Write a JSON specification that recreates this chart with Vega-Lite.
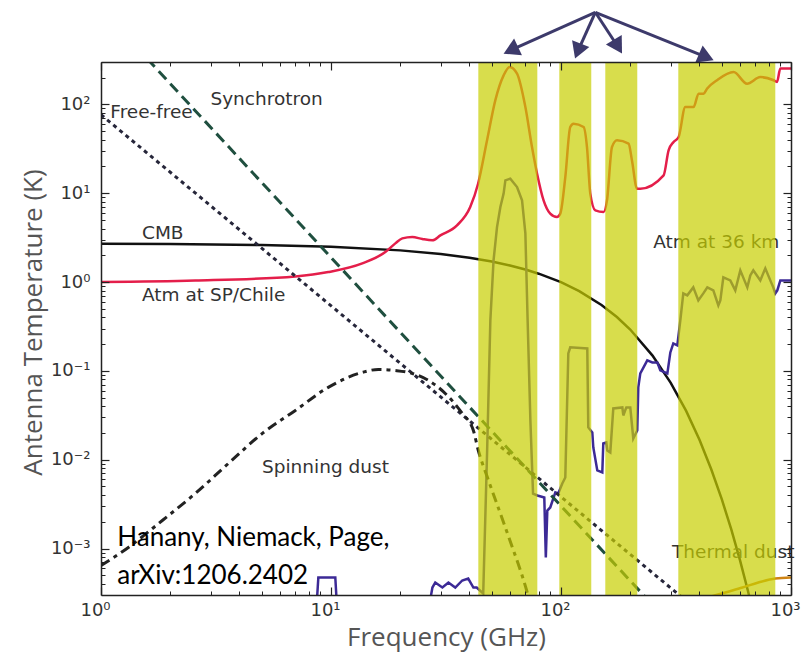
{
  "$schema": "https://vega.github.io/schema/vega-lite/v6.json",
  "width": 690,
  "height": 533,
  "autosize": {"type": "none"},
  "padding": {"left": 101, "top": 62, "right": 14, "bottom": 59},
  "background": "white",
  "config": {"view": {"stroke": null}, "axis": {"grid": false}},
  "datasets": {
    "cmb": [
      {"f": 1, "T": 2.701}, {"f": 2, "T": 2.677}, {"f": 5, "T": 2.607}, {"f": 10, "T": 2.492}, {"f": 20, "T": 2.273},
      {"f": 30, "T": 2.068}, {"f": 40, "T": 1.877}, {"f": 50, "T": 1.699}, {"f": 60, "T": 1.534}, {"f": 70, "T": 1.382},
      {"f": 80, "T": 1.242}, {"f": 100, "T": 0.996}, {"f": 120, "T": 0.7914}, {"f": 150, "T": 0.552}, {"f": 175, "T": 0.4038},
      {"f": 200, "T": 0.292}, {"f": 250, "T": 0.1487}, {"f": 300, "T": 0.0734}, {"f": 350, "T": 0.03542}, {"f": 400, "T": 0.01677},
      {"f": 450, "T": 0.00781}, {"f": 500, "T": 0.003597}, {"f": 550, "T": 0.00164}, {"f": 600, "T": 0.000742}, {"f": 650, "T": 0.000333},
      {"f": 700, "T": 0.0001487}
    ],
    "sync": [{"f": 1, "T": 1190}, {"f": 1000, "T": 0.0000048}],
    "ff": [{"f": 1, "T": 76.5}, {"f": 1000, "T": 0.000027}],
    "spin": [
      {"f": 1.0, "T": 0.000644}, {"f": 1.315, "T": 0.00103}, {"f": 1.847, "T": 0.00207}, {"f": 2.57, "T": 0.00417},
      {"f": 3.58, "T": 0.00908}, {"f": 5.03, "T": 0.0198}, {"f": 7.0, "T": 0.0359}, {"f": 9.73, "T": 0.0652},
      {"f": 13.68, "T": 0.0962}, {"f": 16.06, "T": 0.1038}, {"f": 19.05, "T": 0.101}, {"f": 22.57, "T": 0.0935},
      {"f": 26.5, "T": 0.0781}, {"f": 31.4, "T": 0.0557}, {"f": 37.2, "T": 0.0332}, {"f": 41.6, "T": 0.0213},
      {"f": 43.7, "T": 0.0127}, {"f": 47.9, "T": 0.00631}, {"f": 58.5, "T": 0.00148}, {"f": 71.5, "T": 0.000312},
      {"f": 77, "T": 0.00015}
    ],
    "dust": [
      {"f": 365, "T": 0.000229}, {"f": 424, "T": 0.000274}, {"f": 518, "T": 0.00032}, {"f": 615, "T": 0.000364},
      {"f": 721, "T": 0.000415}, {"f": 855, "T": 0.00046}, {"f": 1000, "T": 0.000472}
    ],
    "sp": [
      {"f": 1, "T": 1.0}, {"f": 2.57, "T": 1.04}, {"f": 7.0, "T": 1.158}, {"f": 9.73, "T": 1.295}, {"f": 13.68, "T": 1.622},
      {"f": 17.22, "T": 2.175}, {"f": 19.04, "T": 2.725}, {"f": 20.42, "T": 3.10}, {"f": 22.57, "T": 3.22}, {"f": 24.95, "T": 3.05},
      {"f": 27.57, "T": 2.95}, {"f": 29.89, "T": 3.35}, {"f": 35.3, "T": 4.35}, {"f": 40.3, "T": 6.99}, {"f": 43.6, "T": 12.8},
      {"f": 47.7, "T": 39.4}, {"f": 51.8, "T": 111}, {"f": 56.3, "T": 212}, {"f": 59.8, "T": 264}, {"f": 64.4, "T": 222},
      {"f": 70.0, "T": 93.4}, {"f": 74.8, "T": 33.1}, {"f": 78.7, "T": 16.6}, {"f": 84.0, "T": 8.31}, {"f": 89.8, "T": 5.89},
      {"f": 96.0, "T": 5.39}, {"f": 99.3, "T": 5.89}, {"f": 104.4, "T": 15.2}, {"f": 109.7, "T": 55.6}, {"f": 113.4, "T": 60.7},
      {"f": 125.4, "T": 55.6}, {"f": 129.7, "T": 33.1}, {"f": 134.1, "T": 9.89}, {"f": 141.0, "T": 6.41}, {"f": 153.2, "T": 6.14},
      {"f": 158.5, "T": 8.31}, {"f": 166.6, "T": 33.1}, {"f": 175.2, "T": 39.4}, {"f": 196.7, "T": 36.1}, {"f": 203.5, "T": 23.4},
      {"f": 214.0, "T": 11.25}, {"f": 221.2, "T": 11.25}, {"f": 279.3, "T": 15.9}, {"f": 293.6, "T": 30.4}, {"f": 308.7, "T": 37.7},
      {"f": 324.6, "T": 42.9}, {"f": 347.1, "T": 93.4}, {"f": 377.1, "T": 93.4}, {"f": 396.5, "T": 132}, {"f": 416.9, "T": 132},
      {"f": 431.3, "T": 150}, {"f": 476.8, "T": 187}, {"f": 562.9, "T": 231}, {"f": 643.9, "T": 171}, {"f": 735.4, "T": 203},
      {"f": 840.2, "T": 187}, {"f": 869.3, "T": 179}, {"f": 898.6, "T": 253}, {"f": 1000, "T": 253}
    ],
    "a36": [
      {"f": 1, "T": 0.0002}, {"f": 8.63, "T": 0.0002}, {"f": 8.81, "T": 0.000472}, {"f": 10.44, "T": 0.000472}, {"f": 10.64, "T": 0.0002},
      {"f": 26.5, "T": 0.0002}, {"f": 27.6, "T": 0.000364}, {"f": 28.4, "T": 0.000415}, {"f": 30.5, "T": 0.000364}, {"f": 32.4, "T": 0.000415},
      {"f": 34.7, "T": 0.000364}, {"f": 37.2, "T": 0.000437}, {"f": 39.5, "T": 0.00046}, {"f": 41.6, "T": 0.000364}, {"f": 43.0, "T": 0.000364},
      {"f": 45.9, "T": 0.000312}, {"f": 47.7, "T": 0.01176}, {"f": 49.3, "T": 0.37}, {"f": 50.9, "T": 1.75}, {"f": 52.7, "T": 4.16},
      {"f": 54.5, "T": 6.99}, {"f": 56.3, "T": 9.89}, {"f": 57.3, "T": 13.95}, {"f": 60.2, "T": 14.6}, {"f": 64.4, "T": 11.73},
      {"f": 67.7, "T": 8.31}, {"f": 70.0, "T": 3.53}, {"f": 71.6, "T": 0.37}, {"f": 73.6, "T": 0.0277}, {"f": 75.6, "T": 0.00414},
      {"f": 78.9, "T": 0.00396}, {"f": 84.6, "T": 0.00376}, {"f": 85.9, "T": 0.000793}, {"f": 87.2, "T": 0.00268}, {"f": 89.8, "T": 0.0029},
      {"f": 94.5, "T": 0.00428}, {"f": 97.3, "T": 0.00417}, {"f": 101.3, "T": 0.0054}, {"f": 104.4, "T": 0.00631}, {"f": 107.6, "T": 0.157},
      {"f": 109.7, "T": 0.184}, {"f": 130.1, "T": 0.179}, {"f": 131.4, "T": 0.0231}, {"f": 136.8, "T": 0.0203}, {"f": 138.2, "T": 0.01374},
      {"f": 143.8, "T": 0.00757}, {"f": 151.2, "T": 0.00719}, {"f": 152.7, "T": 0.01524}, {"f": 157.4, "T": 0.01564}, {"f": 159.0, "T": 0.0127},
      {"f": 163.8, "T": 0.01207}, {"f": 168.8, "T": 0.0378}, {"f": 184.8, "T": 0.0388}, {"f": 186.6, "T": 0.0315}, {"f": 192.3, "T": 0.0388},
      {"f": 200.1, "T": 0.0388}, {"f": 206.2, "T": 0.01736}, {"f": 214.6, "T": 0.02136}, {"f": 216.8, "T": 0.0651}, {"f": 221.2, "T": 0.0936},
      {"f": 237.2, "T": 0.1311}, {"f": 249.5, "T": 0.1245}, {"f": 262.3, "T": 0.1245}, {"f": 270.2, "T": 0.1012}, {"f": 290, "T": 0.0936},
      {"f": 298.8, "T": 0.1613}, {"f": 307.8, "T": 0.2038}, {"f": 320.4, "T": 0.1935}, {"f": 330.2, "T": 0.37}, {"f": 340.2, "T": 0.745},
      {"f": 354.1, "T": 0.708}, {"f": 376.0, "T": 0.871}, {"f": 395.4, "T": 0.622}, {"f": 415.7, "T": 0.745}, {"f": 432.7, "T": 0.871},
      {"f": 459.5, "T": 0.805}, {"f": 483.1, "T": 0.546}, {"f": 492.9, "T": 0.622}, {"f": 507.9, "T": 1.128}, {"f": 544.6, "T": 1.044},
      {"f": 572.5, "T": 0.805}, {"f": 602.0, "T": 1.353}, {"f": 645.7, "T": 0.871}, {"f": 665.3, "T": 1.188}, {"f": 685.6, "T": 1.353},
      {"f": 735.4, "T": 1.044}, {"f": 773.2, "T": 1.425}, {"f": 812.8, "T": 1.044}, {"f": 837.5, "T": 0.871}, {"f": 854.5, "T": 0.745},
      {"f": 871.8, "T": 0.805}, {"f": 898.6, "T": 1.044}, {"f": 1000, "T": 1.044}
    ],
    "labels": [
      {"f": 2.99, "T": 116, "text": "Synchrotron"},
      {"f": 1.098, "T": 82, "text": "Free-free"},
      {"f": 1.507, "T": 3.53, "text": "CMB"},
      {"f": 1.507, "T": 0.7075, "text": "Atm at SP/Chile"},
      {"f": 5.01, "T": 0.00825, "text": "Spinning dust"},
      {"f": 251.9, "T": 2.818, "text": "Atm at 36 km"},
      {"f": 303.9, "T": 0.00091, "text": "Thermal dust"}
    ],
    "credit": [
      {"f": 1.177, "T": 0.0013, "text": "Hanany, Niemack, Page,"},
      {"f": 1.177, "T": 0.000497, "text": "arXiv:1206.2402"}
    ],
    "bands": [
      {"lo": 43.7, "hi": 78.9}, {"lo": 98.3, "hi": 135.4}, {"lo": 155.8, "hi": 214.6}, {"lo": 323.6, "hi": 854.5}
    ],
    "arrows": [
      {"id": 1, "f": 141.0, "T": 1088, "f2": 60.5, "T2": 407},
      {"id": 2, "f": 141.0, "T": 1088, "f2": 118.4, "T2": 398},
      {"id": 3, "f": 141.0, "T": 1088, "f2": 176.8, "T2": 446},
      {"id": 4, "f": 141.0, "T": 1088, "f2": 428.3, "T2": 340.6}
    ]
  },
  "resolve": {"axis": {"x": "independent", "y": "independent"}},
  "layer": [
    {
      "data": {"name": "cmb"},
      "mark": {"type": "line", "color": "#111111", "strokeWidth": 2.5, "clip": true},
      "encoding": {
        "x": {"field": "f", "type": "quantitative", "scale": {"type": "log", "domain": [1, 1000]},
          "axis": {"orient": "bottom", "values": [1, 10, 100, 1000],
            "labelExpr": "datum.value >= 999 ? '10³' : datum.value >= 99 ? '10²' : datum.value >= 9 ? '10¹' : datum.value >= 0.9 ? '10⁰' : datum.value >= 0.09 ? '10⁻¹' : datum.value >= 0.009 ? '10⁻²' : '10⁻³'",
            "ticks": false, "domain": true, "domainColor": "#222222", "domainWidth": 1.5, "labelPadding": 6, "labelOffset": -6,
            "labelFont": "DejaVu Sans", "labelFontSize": 18, "labelColor": "#333333", "labelFlush": false, "labelOverlap": false,
            "title": "Frequency (GHz)", "titleFont": "Open Sans", "titleFontSize": 26, "titleFontWeight": "normal", "titleColor": "#555555",
            "titleBaseline": "alphabetic", "titleY": 50, "zindex": 1}},
        "y": {"field": "T", "type": "quantitative", "scale": {"type": "log", "domain": [0.0003, 300]},
          "axis": {"orient": "left", "values": [0.001, 0.01, 0.1, 1, 10, 100],
            "labelExpr": "datum.value >= 999 ? '10³' : datum.value >= 99 ? '10²' : datum.value >= 9 ? '10¹' : datum.value >= 0.9 ? '10⁰' : datum.value >= 0.09 ? '10⁻¹' : datum.value >= 0.009 ? '10⁻²' : '10⁻³'",
            "ticks": false, "domain": true, "domainColor": "#222222", "domainWidth": 1.5, "labelPadding": 11,
            "labelFont": "DejaVu Sans", "labelFontSize": 18, "labelColor": "#333333", "labelFlush": false, "labelOverlap": false,
            "title": "Antenna Temperature (K)", "titleFont": "Open Sans", "titleFontSize": 26, "titleFontWeight": "normal", "titleColor": "#555555",
            "titleX": -68, "titleY": 260, "titleAngle": 270, "titleAlign": "center", "titleBaseline": "middle", "zindex": 1}}
      }
    },
    {
      "data": {"name": "sp"},
      "mark": {"type": "line", "color": "#e41e4a", "strokeWidth": 2.5, "clip": true, "interpolate": "monotone"},
      "encoding": {
        "x": {"field": "f", "type": "quantitative", "scale": {"type": "log", "domain": [1, 1000]},
          "axis": {"orient": "bottom", "values": [1, 10, 100, 1000], "labels": false, "domain": false, "tickSize": 8, "offset": -8, "tickColor": "#222222", "tickWidth": 1.2, "title": null, "zindex": 1}},
        "y": {"field": "T", "type": "quantitative", "scale": {"type": "log", "domain": [0.0003, 300]},
          "axis": {"orient": "left", "values": [0.001, 0.01, 0.1, 1, 10, 100], "labels": false, "domain": false, "tickSize": 8, "offset": -8, "tickColor": "#222222", "tickWidth": 1.2, "title": null, "zindex": 1}}
      }
    },
    {
      "data": {"name": "a36"},
      "mark": {"type": "line", "color": "#3c2a96", "strokeWidth": 2.5, "clip": true},
      "encoding": {
        "x": {"field": "f", "type": "quantitative", "scale": {"type": "log", "domain": [1, 1000]},
          "axis": {"orient": "bottom", "values": [2, 3, 4, 5, 6, 7, 8, 9, 20, 30, 40, 50, 60, 70, 80, 90, 200, 300, 400, 500, 600, 700, 800, 900], "labels": false, "domain": false, "tickSize": 4, "offset": -4, "tickColor": "#222222", "tickWidth": 1, "title": null, "zindex": 1}},
        "y": {"field": "T", "type": "quantitative", "scale": {"type": "log", "domain": [0.0003, 300]},
          "axis": {"orient": "left", "values": [0.0004, 0.0005, 0.0006, 0.0007, 0.0008, 0.0009, 0.002, 0.003, 0.004, 0.005, 0.006, 0.007, 0.008, 0.009, 0.02, 0.03, 0.04, 0.05, 0.06, 0.07, 0.08, 0.09, 0.2, 0.3, 0.4, 0.5, 0.6, 0.7, 0.8, 0.9, 2, 3, 4, 5, 6, 7, 8, 9, 20, 30, 40, 50, 60, 70, 80, 90, 200, 300], "labels": false, "domain": false, "tickSize": 4, "offset": -4, "tickColor": "#222222", "tickWidth": 1, "title": null, "zindex": 1}}
      }
    },
    {
      "data": {"name": "sync"},
      "mark": {"type": "line", "color": "#1f4f3f", "strokeWidth": 3, "strokeDash": [11, 6], "clip": true},
      "encoding": {
        "x": {"field": "f", "type": "quantitative", "scale": {"type": "log", "domain": [1, 1000]},
          "axis": {"orient": "top", "labels": false, "ticks": false, "domain": true, "domainColor": "#222222", "domainWidth": 1.5, "title": null, "zindex": 1}},
        "y": {"field": "T", "type": "quantitative", "scale": {"type": "log", "domain": [0.0003, 300]},
          "axis": {"orient": "right", "labels": false, "ticks": false, "domain": true, "domainColor": "#222222", "domainWidth": 1.5, "title": null, "zindex": 1}}
      }
    },
    {
      "data": {"name": "ff"},
      "mark": {"type": "line", "color": "#26263a", "strokeWidth": 3, "strokeDash": [4, 4], "clip": true},
      "encoding": {
        "x": {"field": "f", "type": "quantitative", "scale": {"type": "log", "domain": [1, 1000]},
          "axis": {"orient": "top", "values": [1, 10, 100, 1000], "labels": false, "domain": false, "tickSize": 8, "offset": -8, "tickColor": "#222222", "tickWidth": 1.2, "title": null, "zindex": 1}},
        "y": {"field": "T", "type": "quantitative", "scale": {"type": "log", "domain": [0.0003, 300]},
          "axis": {"orient": "right", "values": [0.001, 0.01, 0.1, 1, 10, 100], "labels": false, "domain": false, "tickSize": 8, "offset": -8, "tickColor": "#222222", "tickWidth": 1.2, "title": null, "zindex": 1}}
      }
    },
    {
      "data": {"name": "spin"},
      "mark": {"type": "line", "color": "#222222", "strokeWidth": 3, "strokeDash": [10, 5, 4, 5], "clip": true, "interpolate": "monotone"},
      "encoding": {
        "x": {"field": "f", "type": "quantitative", "scale": {"type": "log", "domain": [1, 1000]},
          "axis": {"orient": "top", "values": [2, 3, 4, 5, 6, 7, 8, 9, 20, 30, 40, 50, 60, 70, 80, 90, 200, 300, 400, 500, 600, 700, 800, 900], "labels": false, "domain": false, "tickSize": 4, "offset": -4, "tickColor": "#222222", "tickWidth": 1, "title": null, "zindex": 1}},
        "y": {"field": "T", "type": "quantitative", "scale": {"type": "log", "domain": [0.0003, 300]},
          "axis": {"orient": "right", "values": [0.0004, 0.0005, 0.0006, 0.0007, 0.0008, 0.0009, 0.002, 0.003, 0.004, 0.005, 0.006, 0.007, 0.008, 0.009, 0.02, 0.03, 0.04, 0.05, 0.06, 0.07, 0.08, 0.09, 0.2, 0.3, 0.4, 0.5, 0.6, 0.7, 0.8, 0.9, 2, 3, 4, 5, 6, 7, 8, 9, 20, 30, 40, 50, 60, 70, 80, 90, 200, 300], "labels": false, "domain": false, "tickSize": 4, "offset": -4, "tickColor": "#222222", "tickWidth": 1, "title": null, "zindex": 1}}
      }
    },
    {
      "data": {"name": "dust"},
      "mark": {"type": "line", "color": "#cf8414", "strokeWidth": 2.5, "clip": true, "interpolate": "monotone"},
      "encoding": {
        "x": {"field": "f", "type": "quantitative", "scale": {"type": "log", "domain": [1, 1000]}, "axis": null},
        "y": {"field": "T", "type": "quantitative", "scale": {"type": "log", "domain": [0.0003, 300]}, "axis": null}
      }
    },
    {
      "data": {"name": "labels"},
      "mark": {"type": "text", "align": "left", "baseline": "middle", "font": "DejaVu Sans", "fontSize": 18.5, "color": "#333333"},
      "encoding": {
        "x": {"field": "f", "type": "quantitative", "scale": {"type": "log", "domain": [1, 1000]}, "axis": null},
        "y": {"field": "T", "type": "quantitative", "scale": {"type": "log", "domain": [0.0003, 300]}, "axis": null},
        "text": {"field": "text"}
      }
    },
    {
      "data": {"name": "bands"},
      "mark": {"type": "rect", "color": "#c8ce00", "opacity": 0.7},
      "encoding": {
        "x": {"field": "lo", "type": "quantitative", "scale": {"type": "log", "domain": [1, 1000]}, "axis": null},
        "x2": {"field": "hi"},
        "y": {"datum": 300, "type": "quantitative", "scale": {"type": "log", "domain": [0.0003, 300]}, "axis": null},
        "y2": {"datum": 0.0003}
      }
    },
    {
      "data": {"name": "credit"},
      "mark": {"type": "text", "align": "left", "baseline": "middle", "font": "Lato", "fontSize": 26, "color": "#000000"},
      "encoding": {
        "x": {"field": "f", "type": "quantitative", "scale": {"type": "log", "domain": [1, 1000]}, "axis": null},
        "y": {"field": "T", "type": "quantitative", "scale": {"type": "log", "domain": [0.0003, 300]}, "axis": null},
        "text": {"field": "text"}
      }
    },
    {
      "data": {"name": "arrows"},
      "mark": {"type": "rule", "color": "#3d3a6b", "strokeWidth": 3, "clip": false},
      "encoding": {
        "x": {"field": "f", "type": "quantitative", "scale": {"type": "log", "domain": [1, 1000]}, "axis": null},
        "y": {"field": "T", "type": "quantitative", "scale": {"type": "log", "domain": [0.0003, 300]}, "axis": null},
        "x2": {"field": "f2"},
        "y2": {"field": "T2"}
      }
    },
    {
      "data": {"name": "arrows"},
      "transform": [{"filter": "datum.id == 1"}],
      "mark": {"type": "point", "shape": "triangle-up", "filled": true, "size": 340, "color": "#3d3a6b", "opacity": 1, "angle": 244.8, "clip": false},
      "encoding": {
        "x": {"field": "f2", "type": "quantitative", "scale": {"type": "log", "domain": [1, 1000]}, "axis": null},
        "y": {"field": "T2", "type": "quantitative", "scale": {"type": "log", "domain": [0.0003, 300]}, "axis": null}
      }
    },
    {
      "data": {"name": "arrows"},
      "transform": [{"filter": "datum.id == 2"}],
      "mark": {"type": "point", "shape": "triangle-up", "filled": true, "size": 340, "color": "#3d3a6b", "opacity": 1, "angle": 200.8, "clip": false},
      "encoding": {
        "x": {"field": "f2", "type": "quantitative", "scale": {"type": "log", "domain": [1, 1000]}, "axis": null},
        "y": {"field": "T2", "type": "quantitative", "scale": {"type": "log", "domain": [0.0003, 300]}, "axis": null}
      }
    },
    {
      "data": {"name": "arrows"},
      "transform": [{"filter": "datum.id == 3"}],
      "mark": {"type": "point", "shape": "triangle-up", "filled": true, "size": 340, "color": "#3d3a6b", "opacity": 1, "angle": 149, "clip": false},
      "encoding": {
        "x": {"field": "f2", "type": "quantitative", "scale": {"type": "log", "domain": [1, 1000]}, "axis": null},
        "y": {"field": "T2", "type": "quantitative", "scale": {"type": "log", "domain": [0.0003, 300]}, "axis": null}
      }
    },
    {
      "data": {"name": "arrows"},
      "transform": [{"filter": "datum.id == 4"}],
      "mark": {"type": "point", "shape": "triangle-up", "filled": true, "size": 340, "color": "#3d3a6b", "opacity": 1, "angle": 113.4, "clip": false},
      "encoding": {
        "x": {"field": "f2", "type": "quantitative", "scale": {"type": "log", "domain": [1, 1000]}, "axis": null},
        "y": {"field": "T2", "type": "quantitative", "scale": {"type": "log", "domain": [0.0003, 300]}, "axis": null}
      }
    }
  ]
}
